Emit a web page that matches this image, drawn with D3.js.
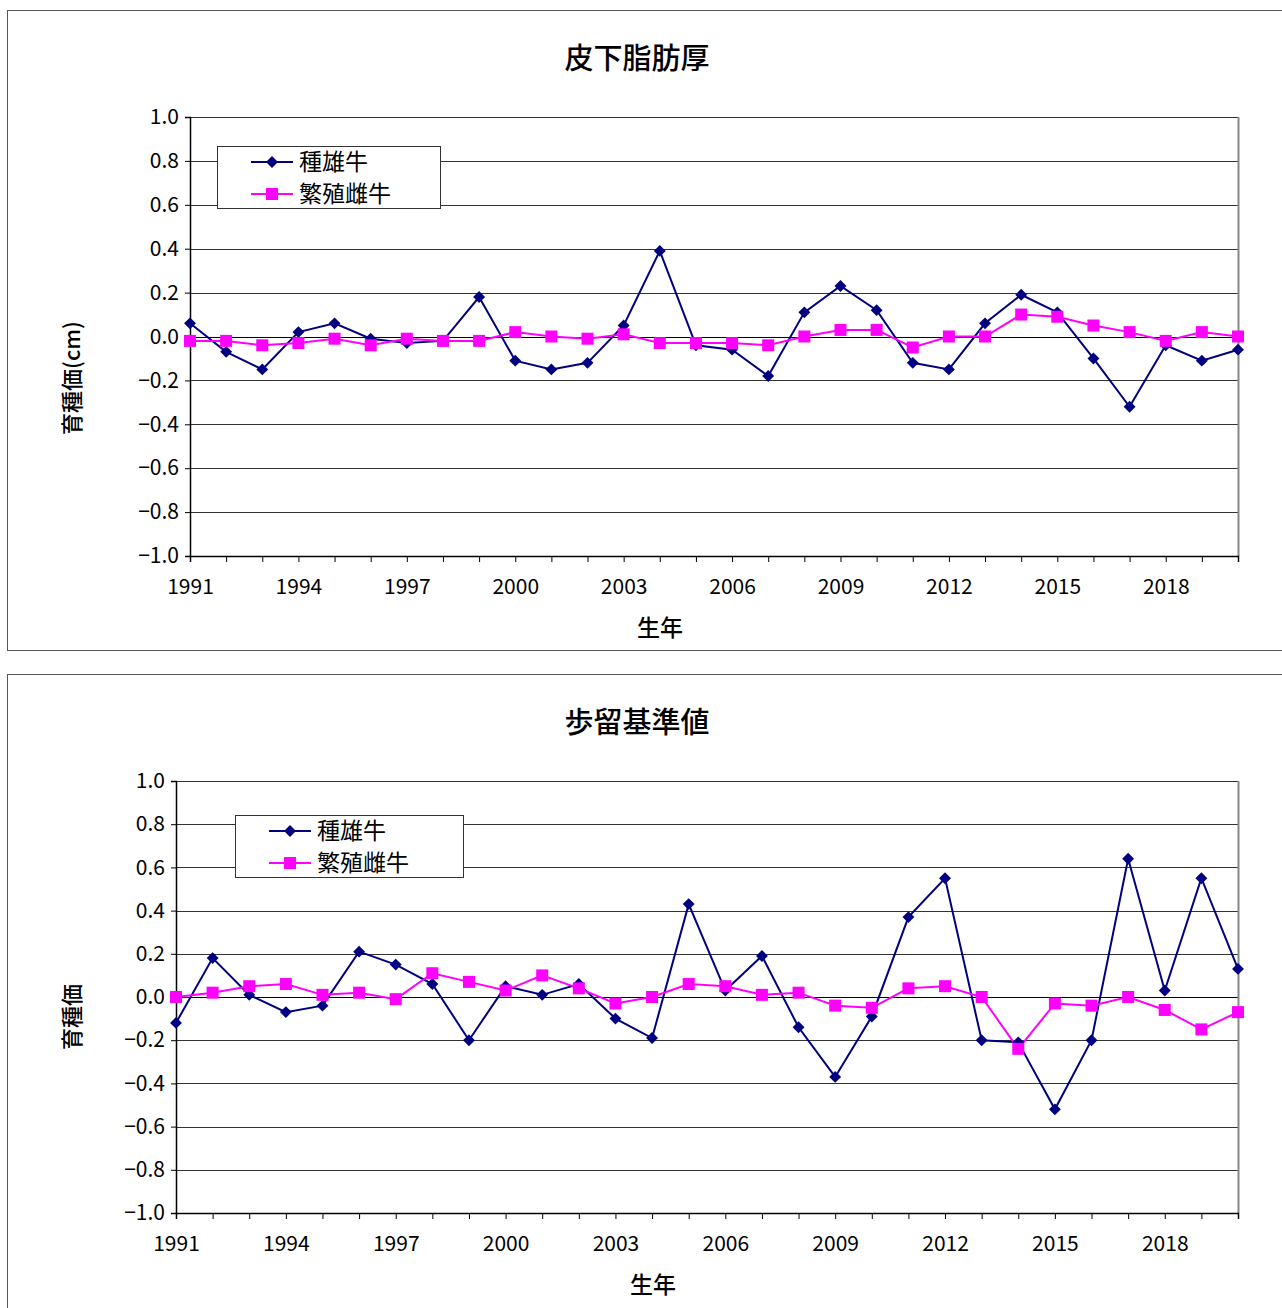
<!DOCTYPE html>
<html>
<head>
<meta charset="utf-8">
<script src="https://cdn.jsdelivr.net/npm/d3@7"></script>
<style>
body { margin:0; background:#fff; font-family:"Noto Sans CJK JP", sans-serif; }
</style>
</head>
<body>
<svg id="chart" width="1282" height="1308"></svg>
<script>
var years = d3.range(1991, 2021);
var yTicks = [-1.0, -0.8, -0.6, -0.4, -0.2, 0.0, 0.2, 0.4, 0.6, 0.8, 1.0];
var xLabelYears = [1991, 1994, 1997, 2000, 2003, 2006, 2009, 2012, 2015, 2018];
var seriesNames = ['種雄牛', '繁殖雌牛'];

var fatBull = [0.06, -0.07, -0.15, 0.02, 0.06, -0.01, -0.03, -0.02, 0.18, -0.11, -0.15, -0.12, 0.05, 0.39, -0.04,
  -0.06, -0.18, 0.11, 0.23, 0.12, -0.12, -0.15, 0.06, 0.19, 0.11, -0.10, -0.32, -0.04, -0.11, -0.06];
var fatCow = [-0.02, -0.02, -0.04, -0.03, -0.01, -0.04, -0.01, -0.02, -0.02, 0.02, 0.00, -0.01, 0.01, -0.03, -0.03,
  -0.03, -0.04, 0.00, 0.03, 0.03, -0.05, 0.00, 0.00, 0.10, 0.09, 0.05, 0.02, -0.02, 0.02, 0.00];
var yieldBull = [-0.12, 0.18, 0.01, -0.07, -0.04, 0.21, 0.15, 0.06, -0.20, 0.05, 0.01, 0.06, -0.10, -0.19, 0.43,
  0.03, 0.19, -0.14, -0.37, -0.09, 0.37, 0.55, -0.20, -0.21, -0.52, -0.20, 0.64, 0.03, 0.55, 0.13];
var yieldCow = [0.00, 0.02, 0.05, 0.06, 0.01, 0.02, -0.01, 0.11, 0.07, 0.03, 0.10, 0.04, -0.03, 0.00, 0.06,
  0.05, 0.01, 0.02, -0.04, -0.05, 0.04, 0.05, 0.00, -0.24, -0.03, -0.04, 0.00, -0.06, -0.15, -0.07];

var svg = d3.select('#chart');
var fmt = function(d) { return d3.format('.1f')(d).replace('-', '−'); };

function drawPanel(cfg) {
  var g = svg.append('g');
  g.append('rect').attr('x', cfg.box[0] + 0.5).attr('y', cfg.box[1] + 0.5)
    .attr('width', cfg.box[2]).attr('height', cfg.box[3])
    .attr('fill', '#fff').attr('stroke', '#555');

  var x = d3.scaleLinear().domain([1991, 2020]).range([cfg.left, cfg.right]);
  var y = d3.scaleLinear().domain([-1, 1]).range([cfg.bottom, cfg.top]);

  // gridlines
  g.selectAll('.grid').data(yTicks.filter(function(d) { return d > -1; })).enter().append('line')
    .attr('x1', cfg.left).attr('x2', cfg.right)
    .attr('y1', function(d) { return Math.round(y(d)) + 0.5; })
    .attr('y2', function(d) { return Math.round(y(d)) + 0.5; })
    .attr('stroke', function(d) { return d === 0 ? '#000' : '#333'; }).attr('stroke-width', 1);
  g.append('line').attr('x1', cfg.right + 0.5).attr('x2', cfg.right + 0.5)
    .attr('y1', cfg.top).attr('y2', cfg.bottom).attr('stroke', '#888').attr('stroke-width', 2);

  var leftAxis = d3.axisLeft(y).tickValues(yTicks).tickFormat(fmt).tickSize(5).tickPadding(6);
  var ya = g.append('g').attr('transform', 'translate(' + cfg.left + ',0)').call(leftAxis);
  var bottomAxis = d3.axisBottom(x).tickValues(years)
    .tickFormat(function(d) { return xLabelYears.indexOf(d) >= 0 ? d : ''; })
    .tickSize(6).tickPadding(17);
  var xa = g.append('g').attr('transform', 'translate(0,' + cfg.bottom + ')').call(bottomAxis);
  [ya, xa].forEach(function(a) {
    a.select('.domain').attr('stroke', '#000').attr('stroke-width', 1.5);
    a.selectAll('.tick line').attr('stroke', '#000');
    a.selectAll('text').attr('font-size', 21).attr('fill', '#000')
      .attr('font-family', '"Noto Sans CJK JP", sans-serif');
  });

  g.append('text').attr('x', 637).attr('y', cfg.box[1] + 59).attr('text-anchor', 'middle')
    .attr('font-size', 29).attr('font-weight', 500).text(cfg.title);
  g.append('text').attr('x', cfg.xLabelX).attr('y', cfg.bottom + 80).attr('text-anchor', 'middle')
    .attr('font-size', 23).attr('font-weight', 500).text('生年');
  g.append('text').attr('transform', 'translate(80,' + cfg.yLabelY + ') rotate(-90)')
    .attr('text-anchor', 'middle').attr('font-size', 22).attr('font-weight', 500).text(cfg.yLabel);

  var line = d3.line().x(function(d, i) { return x(years[i]); }).y(function(d) { return y(d); });
  g.append('path').datum(cfg.bull).attr('d', line).attr('fill', 'none').attr('stroke', '#000080').attr('stroke-width', 2);
  g.append('path').datum(cfg.cow).attr('d', line).attr('fill', 'none').attr('stroke', '#ff00ff').attr('stroke-width', 2);
  g.selectAll('.dia').data(cfg.bull).enter().append('path')
    .attr('d', d3.symbol().type(d3.symbolDiamond2).size(90))
    .attr('transform', function(d, i) { return 'translate(' + x(years[i]) + ',' + y(d) + ')'; })
    .attr('fill', '#000080');
  g.selectAll('.sq').data(cfg.cow).enter().append('rect')
    .attr('x', function(d, i) { return x(years[i]) - 6; }).attr('y', function(d) { return y(d) - 6; })
    .attr('width', 12).attr('height', 12).attr('fill', '#ff00ff');

  // legend
  var lg = g.append('g').attr('transform', 'translate(' + cfg.legend[0] + ',' + cfg.legend[1] + ')');
  lg.append('rect').attr('x', 0.5).attr('y', 0.5).attr('width', cfg.legend[2]).attr('height', 62)
    .attr('fill', '#fff').attr('stroke', '#333');
  seriesNames.forEach(function(name, i) {
    var cy = 16 + i * 32;
    var col = i === 0 ? '#000080' : '#ff00ff';
    lg.append('line').attr('x1', 34).attr('x2', 76).attr('y1', cy).attr('y2', cy).attr('stroke', col).attr('stroke-width', 2);
    if (i === 0) {
      lg.append('path').attr('d', d3.symbol().type(d3.symbolDiamond2).size(90)).attr('transform', 'translate(55,' + cy + ')').attr('fill', col);
    } else {
      lg.append('rect').attr('x', 49).attr('y', cy - 6).attr('width', 12).attr('height', 12).attr('fill', col);
    }
    lg.append('text').attr('x', 82).attr('y', cy + 8).attr('font-size', 23).text(name);
  });
}

drawPanel({ box: [7, 10, 1280, 640], left: 190, right: 1238, top: 117, bottom: 556,
  title: '皮下脂肪厚', yLabel: '育種価(cm)', yLabelY: 378, xLabelX: 660,
  legend: [217, 146, 223], bull: fatBull, cow: fatCow });
drawPanel({ box: [7, 674, 1280, 640], left: 176, right: 1238, top: 781, bottom: 1213,
  title: '歩留基準値', yLabel: '育種価', yLabelY: 1017, xLabelX: 653,
  legend: [235, 815, 228], bull: yieldBull, cow: yieldCow });
</script>
</body>
</html>
